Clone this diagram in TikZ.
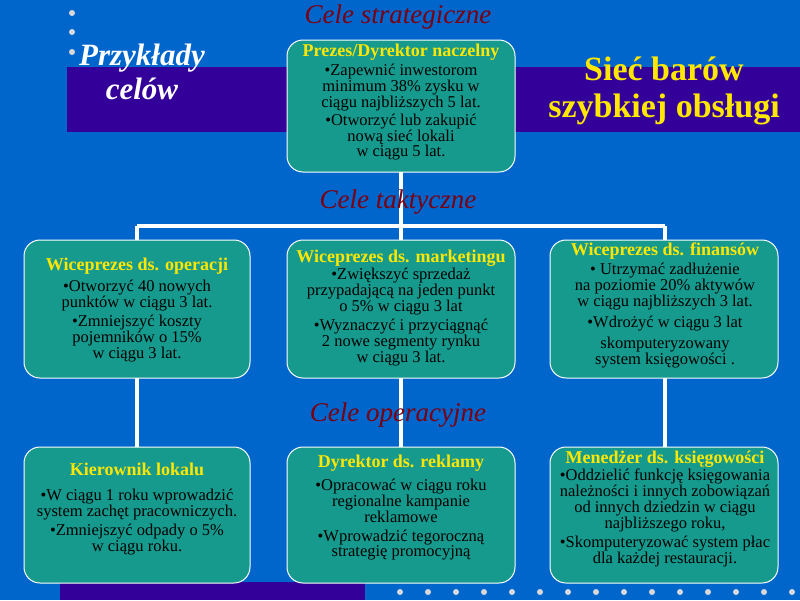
\documentclass[tikz,border=0pt]{standalone}
\usepackage{fontspec}
\setmainfont{Liberation Serif}
\newcommand{\bxt}[1]{{\color{yellow!90!orange}\bfseries\fontsize{18}{17}\selectfont #1}}
\begin{document}
\begin{tikzpicture}[x=1pt,y=-1pt,
 box/.style={draw=white,line width=1pt,fill=boxc,rounded corners=16pt},
 tx/.style={align=center,anchor=north,inner sep=0pt,font=\fontsize{16.5}{14.5}\selectfont},
 lab/.style={text=labc,font=\itshape\fontsize{27}{29}\selectfont},
 wire/.style={draw=white,line width=4pt},
 dot/.style={fill=black!15,draw=none}]
\definecolor{bg}{HTML}{0066CC}
\definecolor{band}{HTML}{330099}
\definecolor{boxc}{HTML}{169A8E}
\definecolor{labc}{HTML}{7A0010}
\useasboundingbox (0,0) rectangle (800,600);
\fill[bg] (0,0) rectangle (800,600);
\fill[band] (67,67) rectangle (800,132);
\fill[band] (60,582) rectangle (365,600);
\foreach \y in {13,32,52} \fill[dot] (72,\y) circle (3);
\foreach \i in {0,...,14} \fill[dot] (400+\i*28,592) circle (3);
\coordinate (tb) at (401,172);
\coordinate (jl) at (137,226); \coordinate (jr) at (665,226); \coordinate (jm) at (401,226);
\draw[wire] (tb) -- (jm); \draw[wire] (jl) -- (jr);
\draw[wire] (jl) -- (137,240); \draw[wire] (jm) -- (401,240); \draw[wire] (jr) -- (665,240);
\draw[wire] (137,378) -- (137,447); \draw[wire] (401,378) -- (401,447); \draw[wire] (665,378) -- (665,447);
\path[box] (287,40) rectangle (515,172);
\path[box] (24,240) rectangle (250,378);
\path[box] (287,240) rectangle (515,378);
\path[box] (550,240) rectangle (778,378);
\path[box] (24,447) rectangle (250,583);
\path[box] (287,447) rectangle (515,583);
\path[box] (550,447) rectangle (778,583);
\node[tx] (top) at (401,44) {\bxt{Prezes/Dyrektor naczelny}\\[2pt]
 •Zapewnić inwestorom\\minimum 38\% zysku w\\ciągu najbliższych 5 lat.\\[2pt]•Otworzyć lub zakupić\\nową sieć lokali\\w ciągu 5 lat.};
\node[tx] (m1) at (137,258) {\bxt{Wiceprezes ds. operacji}\\[4pt]•Otworzyć 40 nowych\\punktów w ciągu 3 lat.\\[3pt]•Zmniejszyć koszty\\pojemników o 15\%\\w ciągu 3 lat.};
\node[tx] (m2) at (401,250) {\bxt{Wiceprezes ds. marketingu}\\•Zwiększyć sprzedaż\\przypadającą na jeden punkt\\o 5\% w ciągu 3 lat\\[3pt]•Wyznaczyć i przyciągnąć\\2 nowe segmenty rynku\\w ciągu 3 lat.};
\node[tx] (m3) at (665,243) {\bxt{Wiceprezes ds. finansów}\\[2pt]• Utrzymać zadłużenie\\na poziomie 20\% aktywów\\w ciągu najbliższych 3 lat.\\[5pt]•Wdrożyć w ciągu 3 lat\\[5pt]skomputeryzowany\\system księgowości .};
\node[tx] (b1) at (137,463) {\bxt{Kierownik lokalu}\\[10pt]•W ciągu 1 roku wprowadzić\\system zachęt pracowniczych.\\[3pt]•Zmniejszyć odpady o 5\%\\w ciągu roku.};
\node[tx] (b2) at (401,455) {\bxt{Dyrektor ds. reklamy}\\[6pt]•Opracować w ciągu roku\\regionalne kampanie\\reklamowe\\[5pt]•Wprowadzić tegoroczną\\strategię promocyjną};
\node[tx] (b3) at (665,451) {\bxt{Menedżer ds. księgowości}\\•Oddzielić funkcję księgowania\\należności i innych zobowiązań\\od innych dziedzin w ciągu\\najbliższego roku,\\[3pt]•Skomputeryzować system płac\\dla każdej restauracji.};
\node[lab] (l1) at (398,17) {Cele strategiczne};
\node[lab] (l2) at (398,202) {Cele taktyczne};
\node[lab] (l3) at (398,415) {Cele operacyjne};
\node[text=white,font=\bfseries\itshape\fontsize{31}{34}\selectfont,align=center] (p) at (142,72) {Przykłady\\celów};
\node[text=yellow!90!orange,font=\bfseries\fontsize{34}{37}\selectfont,align=center] (s) at (664,91) {Sieć barów\\szybkiej obsługi};
\end{tikzpicture}
\end{document}
